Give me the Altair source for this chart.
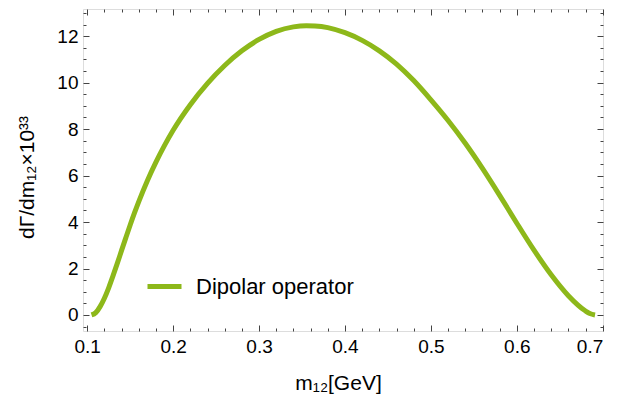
import altair as alt
import pandas as pd

# Curve values
m12 = [0.105, 0.110, 0.115, 0.120, 0.125, 0.130, 0.135, 0.140, 0.145, 0.150,
       0.155, 0.160, 0.170, 0.180, 0.190, 0.200, 0.220, 0.240, 0.260, 0.280,
       0.300, 0.320, 0.340, 0.355, 0.365, 0.380, 0.400, 0.420, 0.440, 0.460,
       0.480, 0.500, 0.520, 0.540, 0.560, 0.580, 0.600, 0.620, 0.640, 0.660,
       0.680, 0.685, 0.691]
rate = [0.00, 0.10, 0.36, 0.72, 1.17, 1.68, 2.22, 2.78, 3.33, 3.87,
        4.39, 4.88, 5.78, 6.58, 7.30, 7.95, 9.05, 9.97, 10.74, 11.37,
        11.86, 12.21, 12.40, 12.45, 12.44, 12.37, 12.15, 11.82, 11.37, 10.80,
        10.09, 9.26, 8.37, 7.39, 6.31, 5.15, 3.95, 2.79, 1.73, 0.83,
        0.17, 0.06, 0.00]
series_name = "Dipolar operator"

x_major = [0.1, 0.2, 0.3, 0.4, 0.5, 0.6, 0.7]
x_minor = [0.12, 0.14, 0.16, 0.18, 0.22, 0.24, 0.26, 0.28, 0.32, 0.34, 0.36, 0.38,
           0.42, 0.44, 0.46, 0.48, 0.52, 0.54, 0.56, 0.58, 0.62, 0.64, 0.66, 0.68]
y_major = [0, 2, 4, 6, 8, 10, 12]
y_minor = [-0.5, 0.5, 1, 1.5, 2.5, 3, 3.5, 4.5, 5, 5.5, 6.5, 7, 7.5, 8.5, 9, 9.5,
           10.5, 11, 11.5, 12.5, 13]

df = pd.DataFrame({"m": m12, "v": rate, "series": series_name})

FONT = "Liberation Sans"
TICK = "#444444"
W, H = 520, 322

xs = alt.Scale(domain=[0.0951, 0.7003], nice=False, zero=False)
ys = alt.Scale(domain=[-0.69, 13.17], nice=False, zero=False)

common = dict(domain=False, grid=False, tickColor=TICK, tickWidth=1)

def xaxis(orient, values, size, labels, **kw):
    return alt.Axis(orient=orient, values=values, tickSize=size, offset=-size,
                    labels=labels, **common, **kw)

def yaxis(orient, values, size, labels, **kw):
    return alt.Axis(orient=orient, values=values, tickSize=size, offset=-size,
                    labels=labels, **common, **kw)

line = alt.Chart(df).mark_line(strokeWidth=5, strokeCap="butt", interpolate="monotone").encode(
    x=alt.X("m:Q", scale=xs,
            axis=xaxis("bottom", x_major, 6, True, format=".1f", labelFont=FONT,
                       labelFontSize=19, labelColor="black", labelPadding=6,
                       title="m₁₂[GeV]", titleFont=FONT, titleFontSize=21,
                       titleFontWeight="normal", titleColor="black",
                       titleX=255, titleY=58, titleBaseline="middle")),
    y=alt.Y("v:Q", scale=ys,
            axis=yaxis("left", y_major, 6, True, format="d", labelFont=FONT,
                       labelFontSize=19, labelColor="black", labelPadding=5,
                       title="dΓ/dm₁₂×10³³", titleFont=FONT, titleFontSize=21,
                       titleFontWeight="normal", titleColor="black",
                       titleX=-62, titleY=168, titleBaseline="middle",
                       titleAngle=270)),
    color=alt.Color("series:N", scale=alt.Scale(range=["#8DB81A"]),
                    legend=alt.Legend(title="", orient="none", legendX=62, legendY=258,
                                      symbolType="stroke", symbolSize=1156,
                                      symbolStrokeWidth=5, labelFont=FONT,
                                      labelFontSize=22, labelColor="black",
                                      labelOffset=12, padding=0)),
)

def ghost(xax, yax):
    return alt.Chart(df).mark_point(opacity=0).encode(
        x=alt.X("m:Q", scale=xs, axis=xax, title=""),
        y=alt.Y("v:Q", scale=ys, axis=yax, title=""),
    )

g1 = ghost(xaxis("top", x_major, 6, False), yaxis("right", y_major, 6, False))
g2 = ghost(xaxis("bottom", x_minor, 3, False), yaxis("left", y_minor, 3, False))
g3 = ghost(xaxis("top", x_minor, 3, False), yaxis("right", y_minor, 3, False))

chart = alt.layer(line, g1, g2, g3).resolve_axis(x="independent", y="independent").properties(
    width=W, height=H,
    padding={"left": 83, "top": 9, "right": 25, "bottom": 72},
    autosize=alt.AutoSizeParams(type="none"),
).configure_view(stroke=TICK, strokeWidth=1).configure(background="white")

chart.save("out.html", embed_options={"renderer": "svg", "actions": False})
